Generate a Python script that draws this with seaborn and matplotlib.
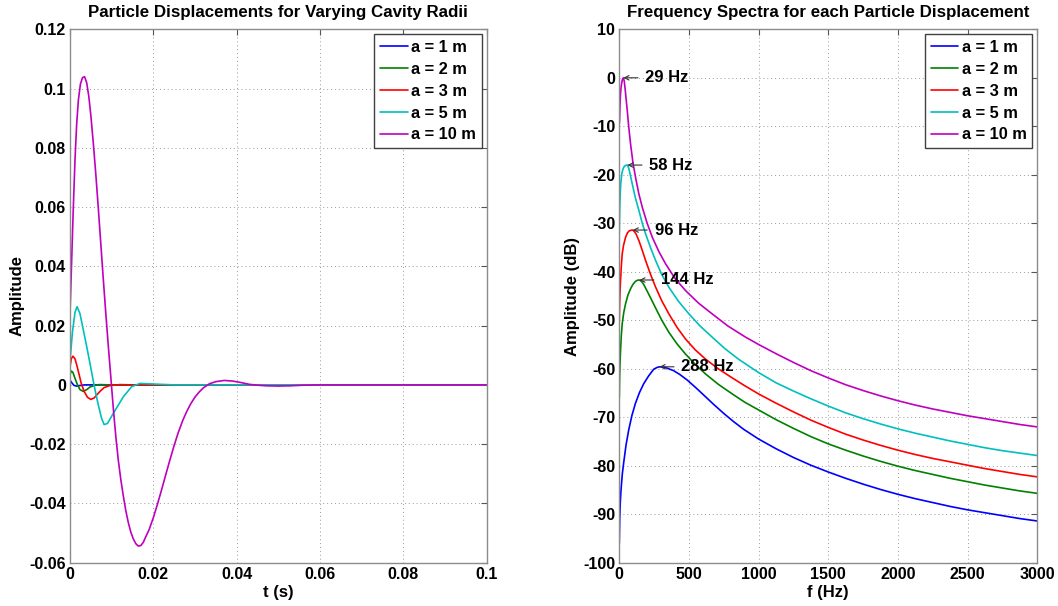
import numpy as np
import pandas as pd
import matplotlib
matplotlib.use("Agg")
import matplotlib.pyplot as plt
from matplotlib.ticker import FixedLocator, FixedFormatter
import seaborn as sns

# ---- series metadata ----
radius_labels = ["a = 1 m", "a = 2 m", "a = 3 m", "a = 5 m", "a = 10 m"]
line_colors = ["#0000ff", "#008000", "#ff0000", "#00bfbf", "#bf00bf"]

# ---- particle displacement vs time (s, amplitude) ----
t_a1 = [0.0, 0.0002, 0.0006, 0.0010, 0.0016, 0.0024, 0.0035, 0.0100, 0.1000]
u_a1 = [0.0015, 0.0012, 0.0004, -0.0002, -0.0004, -0.0002, 0.0, 0.0, 0.0]

t_a2 = [0.0, 0.0003, 0.0007, 0.0012, 0.0018, 0.0024, 0.0032, 0.0040, 0.0048,
        0.0058, 0.0070, 0.0100, 0.1000]
u_a2 = [0.0035, 0.0047, 0.0042, 0.0022, 0.0, -0.0016, -0.0022, -0.0016, -0.0007,
        -0.0002, 0.0001, 0.0, 0.0]

t_a3 = [0.0, 0.0003, 0.0007, 0.0012, 0.0016, 0.0021, 0.0027, 0.0034, 0.0042,
        0.0050, 0.0058, 0.0066, 0.0074, 0.0082, 0.0096, 0.0120, 0.0150, 0.1000]
u_a3 = [0.006, 0.0088, 0.0097, 0.0088, 0.0068, 0.004, 0.0005, -0.0022, -0.0042,
        -0.0049, -0.0044, -0.0031, -0.0019, -0.0009, -0.0002, 0.0001, 0.0, 0.0]

t_a5 = [0.0, 0.0006, 0.0012, 0.0017, 0.0024, 0.0032, 0.0040, 0.0048, 0.0056,
        0.0062, 0.0068, 0.0076, 0.0082, 0.0090, 0.0104, 0.0116, 0.0128, 0.0148,
        0.0168, 0.0200, 0.0250, 0.1000]
u_a5 = [0.008, 0.018, 0.0245, 0.0264, 0.0240, 0.0185, 0.0130, 0.0072, 0.0012,
        -0.0030, -0.0068, -0.0114, -0.0134, -0.0130, -0.0096, -0.0068, -0.0040,
        -0.0006, 0.0005, 0.0003, 0.0, 0.0]

t_a10 = [0.0, 0.0004, 0.0008, 0.0012, 0.0016, 0.0020, 0.0025, 0.0030, 0.0035,
         0.0040, 0.0045, 0.0050, 0.0056, 0.0062, 0.0068, 0.0074, 0.0080, 0.0086,
         0.0092, 0.0098, 0.0104, 0.0110, 0.0116, 0.0122, 0.0128, 0.0134, 0.0140,
         0.0146, 0.0152, 0.0158, 0.0164, 0.0170, 0.0176, 0.0182, 0.0190, 0.0200,
         0.0210, 0.0220, 0.0230, 0.0240, 0.0250, 0.0260, 0.0270, 0.0280, 0.0290,
         0.0300, 0.0310, 0.0320, 0.0335, 0.0350, 0.0370, 0.0390, 0.0410, 0.0430,
         0.0450, 0.0470, 0.0500, 0.0530, 0.0560, 0.0600, 0.0700, 0.0800, 0.0900,
         0.1000]
u_a10 = [0.024, 0.042, 0.060, 0.076, 0.088, 0.096, 0.1015, 0.1037, 0.1040,
         0.1020, 0.0975, 0.0910, 0.0815, 0.0710, 0.0595, 0.0475, 0.0355, 0.0240,
         0.0130, 0.0025, -0.0080, -0.0175, -0.0255, -0.0320, -0.0375, -0.0425,
         -0.0465, -0.0497, -0.0520, -0.0536, -0.0544, -0.0542, -0.0531, -0.0512,
         -0.0488, -0.0448, -0.0402, -0.0353, -0.0302, -0.0252, -0.0204, -0.0160,
         -0.0122, -0.0090, -0.0063, -0.0041, -0.0024, -0.0010, 0.0004, 0.0011,
         0.0015, 0.0013, 0.0008, 0.0002, -0.0001, -0.0003, -0.0004, -0.0003,
         -0.0001, 0.0, 0.0, 0.0, 0.0, 0.0]

# ---- frequency spectra (Hz, dB) ----
f_a1 = [0, 3, 7, 11, 15, 22, 31, 48, 67, 90, 115, 145, 175, 210, 247, 270, 288,
        310, 340, 390, 435, 486, 545, 605, 675, 749, 820, 893, 1000, 1125, 1250,
        1375, 1500, 1625, 1750, 1875, 2000, 2125, 2250, 2375, 2500, 2625, 2750,
        2875, 3000]
db_a1 = [-96.0, -91.0, -87.7, -85.6, -84.0, -81.6, -79.5, -75.8, -72.7, -69.7,
         -67.2, -64.9, -63.1, -61.5, -60.1, -59.75, -59.6, -59.65, -59.85, -60.4,
         -61.2, -62.3, -63.8, -65.4, -67.3, -69.2, -70.9, -72.5, -74.5, -76.5,
         -78.3, -79.9, -81.3, -82.6, -83.8, -84.9, -85.9, -86.8, -87.6, -88.4,
         -89.1, -89.7, -90.3, -90.9, -91.4]

f_a2 = [0, 2, 4, 6, 9, 14, 21, 32, 45, 62, 81, 98, 115, 130, 144, 160, 175, 200,
        230, 261, 305, 356, 415, 476, 545, 620, 710, 811, 900, 1000, 1125, 1250,
        1375, 1500, 1625, 1750, 1875, 2000, 2125, 2250, 2375, 2500, 2625, 2750,
        2875, 3000]
db_a2 = [-66.0, -62.5, -60.0, -58.2, -56.2, -53.3, -50.7, -48.4, -46.6, -44.8,
         -43.5, -42.6, -42.0, -41.75, -41.7, -42.0, -42.6, -44.0, -45.7, -47.5,
         -50.0, -52.5, -54.9, -57.0, -59.1, -61.1, -63.2, -65.2, -66.9, -68.5,
         -70.5, -72.3, -74.0, -75.5, -76.8, -78.0, -79.1, -80.1, -81.0, -81.8,
         -82.6, -83.3, -84.0, -84.6, -85.2, -85.7]

f_a3 = [0, 3, 6, 9, 14, 21, 30, 45, 58, 70, 83, 96, 108, 120, 141, 165, 189,
        225, 261, 305, 356, 415, 476, 545, 620, 710, 811, 900, 1000, 1125, 1250,
        1375, 1500, 1625, 1750, 1875, 2000, 2125, 2250, 2375, 2500, 2625, 2750,
        2875, 3000]
db_a3 = [-50.0, -46.0, -43.5, -41.8, -39.0, -36.3, -34.6, -32.9, -32.0, -31.6,
         -31.45, -31.4, -31.7, -32.2, -33.6, -35.6, -37.7, -40.6, -43.2, -46.0,
         -48.7, -51.5, -53.9, -56.1, -58.05, -60.0, -61.9, -63.5, -65.2, -67.1,
         -68.9, -70.6, -72.1, -73.5, -74.7, -75.8, -76.8, -77.7, -78.5, -79.2,
         -79.9, -80.6, -81.2, -81.8, -82.3]

f_a5 = [0, 2, 4, 7, 10, 15, 20, 28, 35, 45, 58, 66, 75, 84, 93, 115, 141, 165,
        189, 225, 261, 305, 356, 425, 500, 580, 667, 760, 859, 1000, 1125, 1250,
        1375, 1500, 1625, 1750, 1875, 2000, 2125, 2250, 2375, 2500, 2625, 2750,
        2875, 3000]
db_a5 = [-32.0, -28.5, -26.0, -23.8, -22.0, -20.5, -19.5, -18.7, -18.3, -18.05,
         -18.0, -18.5, -19.5, -20.7, -21.9, -24.7, -27.4, -30.0, -32.2, -35.1,
         -37.7, -40.6, -43.2, -46.1, -48.7, -51.2, -53.5, -55.9, -58.1, -60.8,
         -62.9, -64.6, -66.2, -67.7, -69.1, -70.3, -71.4, -72.4, -73.3, -74.1,
         -74.9, -75.6, -76.3, -76.9, -77.4, -77.9]

f_a10 = [0, 2, 5, 9, 13, 17, 22, 29, 35, 40, 47, 57, 68, 81, 98, 117, 140, 165,
         200, 237, 285, 333, 400, 476, 570, 667, 780, 907, 1000, 1125, 1250, 1375,
         1500, 1625, 1750, 1875, 2000, 2125, 2250, 2375, 2500, 2625, 2750, 2875,
         3000]
db_a10 = [-9.5, -8.7, -5.5, -3.2, -1.9, -1.1, -0.4, 0.0, -0.6, -1.8, -3.8, -6.7,
          -10.2, -13.7, -17.5, -20.6, -23.9, -26.7, -30.0, -32.9, -35.9, -38.4,
          -41.4, -43.9, -46.5, -48.7, -51.2, -53.5, -55.0, -56.9, -58.7, -60.4,
          -61.9, -63.3, -64.5, -65.6, -66.6, -67.5, -68.3, -69.0, -69.7, -70.3,
          -70.9, -71.5, -72.0]

# ---- axis ticks ----
t_ticks = [0, 0.02, 0.04, 0.06, 0.08, 0.1]
t_tick_labels = ["0", "0.02", "0.04", "0.06", "0.08", "0.1"]
u_ticks = [-0.06, -0.04, -0.02, 0, 0.02, 0.04, 0.06, 0.08, 0.1, 0.12]
u_tick_labels = ["-0.06", "-0.04", "-0.02", "0", "0.02", "0.04", "0.06",
                 "0.08", "0.1", "0.12"]
f_ticks = [0, 500, 1000, 1500, 2000, 2500, 3000]
db_ticks = [-100, -90, -80, -70, -60, -50, -40, -30, -20, -10, 0, 10]

time_series = [(t_a1, u_a1), (t_a2, u_a2), (t_a3, u_a3), (t_a5, u_a5), (t_a10, u_a10)]
spectra = [(f_a1, db_a1), (f_a2, db_a2), (f_a3, db_a3), (f_a5, db_a5), (f_a10, db_a10)]

sns.set_theme(style="white")
plt.rcParams["font.family"] = ["Liberation Sans", "DejaVu Sans"]
plt.rcParams["font.weight"] = "bold"
plt.rcParams["axes.labelweight"] = "bold"
plt.rcParams["axes.titleweight"] = "bold"
plt.rcParams["axes.unicode_minus"] = False
plt.rcParams["text.color"] = "black"
plt.rcParams["axes.labelcolor"] = "black"
plt.rcParams["xtick.color"] = "black"
plt.rcParams["ytick.color"] = "black"

W, H = 1058, 606
fig = plt.figure(figsize=(W / 100, H / 100), dpi=100)
fig.patch.set_facecolor("white")


def px_axes(x0, y0, x1, y1):
    return fig.add_axes([x0 / W, 1 - y1 / H, (x1 - x0) / W, (y1 - y0) / H])


ax1 = px_axes(70, 29.3, 486.7, 562.7)
ax2 = px_axes(619.3, 29.3, 1037.3, 562.7)

for (t, u), col in zip(time_series, line_colors):
    df = pd.DataFrame({"t": t, "u": u})
    sns.lineplot(data=df, x="t", y="u", color=col, lw=1.2, ax=ax1,
                 legend=False, estimator=None, sort=False)

for (f, db), col in zip(spectra, line_colors):
    df = pd.DataFrame({"f": f, "db": db})
    sns.lineplot(data=df, x="f", y="db", color=col, lw=1.2, ax=ax2,
                 legend=False, estimator=None, sort=False)

# peak markers with frequency labels
for f, db in spectra:
    k = int(np.argmax(db))
    ax2.annotate(f"{f[k]:g} Hz", xy=(f[k], db[k]), xytext=(22, 0),
                 textcoords="offset pixels", ha="left", va="center",
                 fontsize=12, fontweight="bold", color="black",
                 arrowprops=dict(arrowstyle="->", color="#333333", lw=0.8,
                                 shrinkA=3, shrinkB=0, mutation_scale=8))

spine_col = "#8c8c8c"
for ax in (ax1, ax2):
    ax.set_facecolor("white")
    ax.grid(True, color="#9a9a9a", lw=0.7, ls=(0, (1, 3)))
    ax.tick_params(direction="in", length=4, width=0.8, color="#555555",
                   top=True, right=True, labelsize=11.5, pad=3,
                   labelcolor="black")
    for s in ax.spines.values():
        s.set_color(spine_col)
        s.set_linewidth(1.0)

ax1.set_xlim(0, 0.1)
ax1.set_ylim(-0.06, 0.12)
ax1.xaxis.set_major_locator(FixedLocator(t_ticks))
ax1.xaxis.set_major_formatter(FixedFormatter(t_tick_labels))
ax1.yaxis.set_major_locator(FixedLocator(u_ticks))
ax1.yaxis.set_major_formatter(FixedFormatter(u_tick_labels))
ax1.set_xlabel("t (s)", fontsize=12, fontweight="bold", labelpad=2)
ax1.set_ylabel("Amplitude", fontsize=12, fontweight="bold", labelpad=3)
ax1.set_title("Particle Displacements for Varying Cavity Radii",
              fontsize=12.2, fontweight="bold", pad=9)

ax2.set_xlim(0, 3000)
ax2.set_ylim(-100, 10)
ax2.xaxis.set_major_locator(FixedLocator(f_ticks))
ax2.yaxis.set_major_locator(FixedLocator(db_ticks))
ax2.set_xlabel("f (Hz)", fontsize=12, fontweight="bold", labelpad=2)
ax2.set_ylabel("Amplitude (dB)", fontsize=12, fontweight="bold", labelpad=2)
ax2.set_title("Frequency Spectra for each Particle Displacement",
              fontsize=12.2, fontweight="bold", pad=9)

for ax in (ax1, ax2):
    for lbl in ax.get_xticklabels() + ax.get_yticklabels():
        lbl.set_fontweight("bold")
    leg = ax.legend(handles=ax.lines[:5], labels=radius_labels,
                    loc="upper right", frameon=True, fancybox=False,
                    framealpha=1, edgecolor="#404040", borderaxespad=0.3,
                    handlelength=1.7, handletextpad=0.2, labelspacing=0.42,
                    borderpad=0.35, prop=dict(weight="bold", size=11.8))
    leg.get_frame().set_linewidth(1.0)

fig.savefig("out.png", dpi=100, facecolor="white")
